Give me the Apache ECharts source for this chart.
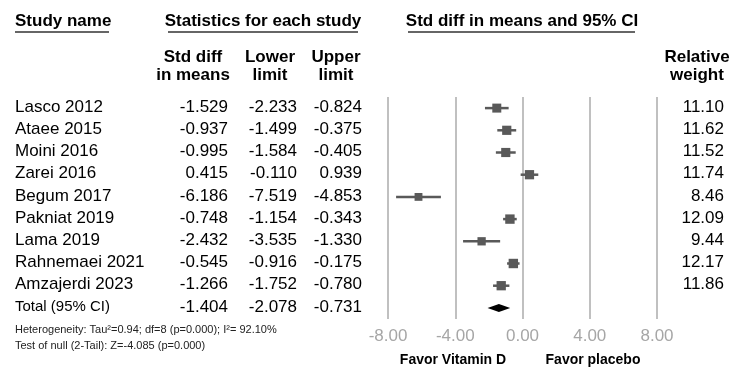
<!DOCTYPE html>
<html>
<head>
<meta charset="utf-8">
<script src="https://cdn.jsdelivr.net/npm/echarts@6/dist/echarts.min.js"></script>
<style>
  html, body { margin: 0; padding: 0; background: #fff; }
  #chart { width: 731px; height: 367px; }
</style>
</head>
<body>
<div id="chart"></div>
<script>
const studies = ['Lasco 2012', 'Ataee 2015', 'Moini 2016', 'Zarei 2016', 'Begum 2017',
  'Pakniat 2019', 'Lama 2019', 'Rahnemaei 2021', 'Amzajerdi 2023'];
const smd = [-1.529, -0.937, -0.995, 0.415, -6.186, -0.748, -2.432, -0.545, -1.266];
const lower = [-2.233, -1.499, -1.584, -0.110, -7.519, -1.154, -3.535, -0.916, -1.752];
const upper = [-0.824, -0.375, -0.405, 0.939, -4.853, -0.343, -1.330, -0.175, -0.780];
const weights = [11.10, 11.62, 11.52, 11.74, 8.46, 12.09, 9.44, 12.17, 11.86];
const totalLabel = 'Total (95% CI)';
const total = { smd: -1.404, lower: -2.078, upper: -0.731 };
const xTicks = [-8, -4, 0, 4, 8];

const font = '"Liberation Sans", Arial, sans-serif';
const gridTop = 97, gridBottom = 48, rowH = 22.2;
const rowY = i => gridTop + rowH * (i + 0.5) - 1;

const chart = echarts.init(document.getElementById('chart'));

const rows = studies.map((s, i) => [i, smd[i], lower[i], upper[i], weights[i], 0]);
rows.push([studies.length, total.smd, total.lower, total.upper, 0, 1]);

const graphics = [];
function txt(x, y, text, opt) {
  graphics.push({
    type: 'text', x: x, y: y,
    style: Object.assign({
      text: text, fill: '#000', font: '17px ' + font,
      textAlign: 'left', textVerticalAlign: 'middle'
    }, opt || {})
  });
}
function uline(x1, x2, y) {
  graphics.push({ type: 'line', shape: { x1: x1, y1: y, x2: x2, y2: y },
    style: { stroke: '#333', lineWidth: 1.5 } });
}

// headers
txt(15, 21, 'Study name', { font: 'bold 17px ' + font });
uline(15, 109, 32);
txt(263, 21, 'Statistics for each study', { font: 'bold 17px ' + font, textAlign: 'center' });
uline(168, 358, 32);
txt(522, 21, 'Std diff in means and 95% CI', { font: 'bold 17px ' + font, textAlign: 'center' });
uline(408, 635, 32);
const colHeads = [['Std diff', 'in means', 193], ['Lower', 'limit', 270], ['Upper', 'limit', 336], ['Relative', 'weight', 697]];
colHeads.forEach(h => {
  txt(h[2], 57, h[0], { font: 'bold 17px ' + font, textAlign: 'center' });
  txt(h[2], 75, h[1], { font: 'bold 17px ' + font, textAlign: 'center' });
});

// table rows
const fmt = v => v.toFixed(3);
studies.forEach((s, i) => {
  const y = rowY(i);
  txt(15, y, s);
  txt(228, y, fmt(smd[i]), { textAlign: 'right' });
  txt(297, y, fmt(lower[i]), { textAlign: 'right' });
  txt(362, y, fmt(upper[i]), { textAlign: 'right' });
  txt(724, y, weights[i].toFixed(2), { textAlign: 'right' });
});
const ty = rowY(studies.length);
txt(15, ty, totalLabel, { font: '15px ' + font });
txt(228, ty, fmt(total.smd), { textAlign: 'right' });
txt(297, ty, fmt(total.lower), { textAlign: 'right' });
txt(362, ty, fmt(total.upper), { textAlign: 'right' });

txt(15, 330, 'Heterogeneity: Tau\u00B2=0.94; df=8 (p=0.000); I\u00B2= 92.10%', { font: '11px ' + font, fill: '#222' });
txt(15, 346, 'Test of null (2-Tail): Z=-4.085 (p=0.000)', { font: '11px ' + font, fill: '#222' });

txt(453, 360, 'Favor Vitamin D', { font: 'bold 14px ' + font, textAlign: 'center' });
txt(593, 360, 'Favor placebo', { font: 'bold 14px ' + font, textAlign: 'center' });

const option = {
  animation: false,
  grid: { left: 388, right: 74, top: gridTop, bottom: gridBottom },
  xAxis: {
    type: 'value',
    min: xTicks[0],
    max: xTicks[xTicks.length - 1],
    interval: 4,
    axisLine: { show: false },
    axisTick: { show: false },
    axisLabel: {
      margin: 9,
      color: '#a6a6a6',
      fontSize: 17,
      fontFamily: font,
      formatter: v => v.toFixed(2)
    },
    splitLine: { show: true, lineStyle: { color: '#c0c0c0', width: 2 } }
  },
  yAxis: {
    type: 'category',
    inverse: true,
    data: studies.concat([totalLabel]),
    show: false
  },
  series: [{
    type: 'custom',
    data: rows,
    encode: { x: [1, 2, 3], y: 0 },
    renderItem: function (params, api) {
      const idx = api.value(0);
      const c = api.coord([api.value(1), idx]);
      const lo = api.coord([api.value(2), idx]);
      const hi = api.coord([api.value(3), idx]);
      if (api.value(5) === 1) {
        const h = 4;
        return {
          type: 'polygon',
          shape: { points: [[lo[0], c[1]], [c[0], c[1] - h], [hi[0], c[1]], [c[0], c[1] + h]] },
          style: { fill: '#000' }
        };
      }
      const s = Math.sqrt(api.value(4)) * 2.7;
      return {
        type: 'group',
        children: [
          { type: 'line', shape: { x1: lo[0], y1: c[1], x2: hi[0], y2: c[1] },
            style: { stroke: '#595959', lineWidth: 2.5 } },
          { type: 'rect', shape: { x: c[0] - s / 2, y: c[1] - s / 2, width: s, height: s },
            style: { fill: '#595959' } }
        ]
      };
    }
  }],
  graphic: graphics
};

chart.setOption(option);
</script>
</body>
</html>
